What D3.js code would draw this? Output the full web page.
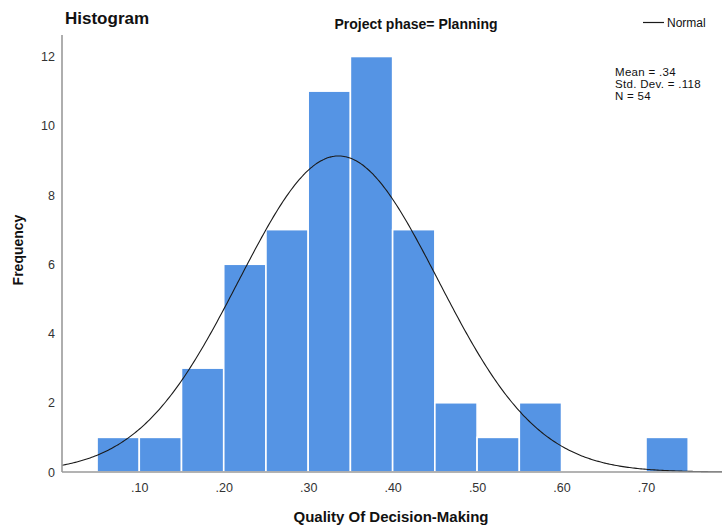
<!DOCTYPE html>
<html><head><meta charset="utf-8">
<script src="https://cdn.jsdelivr.net/npm/d3@7"></script>
<style>
body{margin:0;background:#fff;}
text{font-family:"Liberation Sans Narrow","Arial Narrow","Liberation Sans",Arial,sans-serif;}
</style></head>
<body><svg id="c" width="727" height="528"></svg>
<script>
// Data
const binStarts = [0.05,0.10,0.15,0.20,0.25,0.30,0.35,0.40,0.45,0.50,0.55,0.70];
const binCounts = [1,1,3,6,7,11,12,7,2,1,2,1];
const binWidth = 0.05;
const xTicks = [0.10,0.20,0.30,0.40,0.50,0.60,0.70];
const xTickLabels = [".10",".20",".30",".40",".50",".60",".70"];
const yTicks = [0,2,4,6,8,10,12];
const statLines = ["Mean = .34","Std. Dev. = .118","N = 54"];
const curveMean = 0.336, curveSD = 0.118, curveN = 54;

const svg = d3.select("#c");
const x = d3.scaleLinear().domain([0.0085,0.79]).range([62,722]);
const y = d3.scaleLinear().domain([0,12]).range([472,56.5]);

// bars
svg.append("g").selectAll("rect").data(binStarts).join("rect")
  .attr("x",(d)=>x(d))
  .attr("width",(d)=>x(d+binWidth)-x(d))
  .attr("y",(d,i)=>y(binCounts[i]))
  .attr("height",(d,i)=>y(0)-y(binCounts[i]))
  .attr("fill","#5594e4")
  .attr("stroke","#ffffff").attr("stroke-width",1.6);

// normal curve
const xs = d3.range(0,401).map(i=>0.0085+(0.79-0.0085)*i/400);
const pdf = v => curveN*binWidth/(curveSD*Math.sqrt(2*Math.PI))*Math.exp(-0.5*((v-curveMean)/curveSD)**2);
svg.append("path").datum(xs)
  .attr("d",d3.line().x(v=>x(v)).y(v=>y(pdf(v))).curve(d3.curveBasis))
  .attr("fill","none").attr("stroke","#1a1a1a").attr("stroke-width",1.1);

// axes
const gx = svg.append("g").attr("transform","translate(0,472)")
  .call(d3.axisBottom(x).tickValues(xTicks).tickFormat((d,i)=>xTickLabels[i]).tickSize(0).tickPadding(11));
gx.select(".domain").attr("stroke","#9a9a9a").attr("stroke-width",1.6).attr("d","M62,0H722");
gx.selectAll("text").attr("font-size",12.5).attr("fill","#333");

const gy = svg.append("g").attr("transform","translate(62,0)")
  .call(d3.axisLeft(y).tickValues(yTicks).tickFormat(d3.format("d")).tickSize(0).tickPadding(7));
gy.select(".domain").attr("stroke","#9a9a9a").attr("stroke-width",1.6).attr("d","M0,35V472");
gy.selectAll("text").attr("font-size",12.5).attr("fill","#333");

// titles
svg.append("text").attr("x",65).attr("y",24).attr("font-size",17).attr("font-weight","bold")
  .style("font-family","'Liberation Sans',Arial,sans-serif").attr("fill","#111").text("Histogram");
svg.append("text").attr("x",416).attr("y",29).attr("text-anchor","middle").attr("font-size",14)
  .attr("font-weight","bold").attr("fill","#111").text("Project phase= Planning");
svg.append("text").attr("x",391).attr("y",522).attr("text-anchor","middle").attr("font-size",15)
  .attr("font-weight","bold").attr("fill","#111").text("Quality Of Decision-Making");
svg.append("text").attr("transform","translate(23,250) rotate(-90)").attr("text-anchor","middle")
  .attr("font-size",14).attr("font-weight","bold")
  .style("font-family","'Liberation Sans',Arial,sans-serif").attr("fill","#111").text("Frequency");

// legend
svg.append("line").attr("x1",643).attr("x2",664).attr("y1",22.5).attr("y2",22.5)
  .attr("stroke","#1a1a1a").attr("stroke-width",1.2);
svg.append("text").attr("x",667).attr("y",27).attr("font-size",12).attr("fill","#111").text("Normal");

// stats
svg.append("g").selectAll("text").data(statLines).join("text")
  .attr("x",615).attr("y",(d,i)=>76+i*12).attr("font-size",11.5).attr("letter-spacing",0.3)
  .attr("fill","#111").text(d=>d);
</script></body></html>
